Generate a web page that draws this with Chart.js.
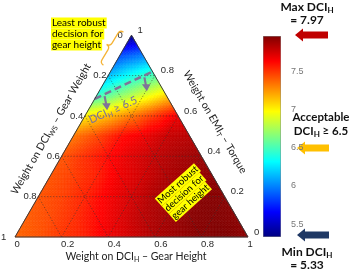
<!DOCTYPE html>
<html>
<head>
<meta charset="utf-8">
<script src="https://cdn.jsdelivr.net/npm/chart.js@4.4.0/dist/chart.umd.min.js"></script>
<style>
html, body { margin: 0; padding: 0; background: #fff; }
#wrap { position: relative; width: 350px; height: 271px; }
#tern { position: absolute; left: 0; top: 0; }
#cbar { position: absolute; left: 263px; top: 28px; }
</style>
</head>
<body>
<div id="wrap">
  <canvas id="tern" width="350" height="271"></canvas>
  <canvas id="cbar" width="45" height="217"></canvas>
</div>
<script>
// DCI_H at the ternary grid nodes (step 0.1).
// row r: weight on EMI_T = 1 - r/10, entries left to right: weight on DCI_H = 0 .. r/10
const gridStep = 0.1;
const dciRows = [
  [5.33],
  [5.85, 5.98],
  [6.15, 6.35, 6.52],
  [6.45, 6.68, 6.88, 7.08],
  [7.02, 7.15, 7.32, 7.50, 7.68],
  [7.33, 7.45, 7.60, 7.68, 7.78, 7.82],
  [7.42, 7.52, 7.62, 7.72, 7.80, 7.86, 7.90],
  [7.42, 7.48, 7.56, 7.68, 7.76, 7.85, 7.90, 7.93],
  [7.42, 7.47, 7.55, 7.66, 7.75, 7.85, 7.90, 7.95, 7.95],
  [7.40, 7.45, 7.52, 7.62, 7.72, 7.82, 7.88, 7.94, 7.96, 7.94],
  [7.38, 7.42, 7.50, 7.56, 7.68, 7.76, 7.85, 7.90, 7.95, 7.97, 7.93]
];
const dciMin = 5.33;
const dciMax = 7.97;
const threshold = 6.5;
const threshEdgeC = [0.685, 0.82];   // EMI_T weight where the 6.5 contour meets the left / right edge
const axisTicks = [0, 0.2, 0.4, 0.6, 0.8, 1];
const tickLabels = ['0', '0.2', '0.4', '0.6', '0.8', '1'];
const gridLevels = [0.2, 0.4, 0.6, 0.8];
const colorbarTicks = [5.5, 6, 6.5, 7, 7.5];

const H = Math.sqrt(3) / 2;
const tern = (a, c) => ({ x: a + c / 2, y: c * H });

function jetRGB(v) {
  const t = Math.min(1, Math.max(0, (v - dciMin) / (dciMax - dciMin)));
  const f = k => Math.round(255 * Math.min(1, Math.max(0, 1.5 - Math.abs(4 * t - k))));
  return [f(3), f(2), f(1)];
}
const jet = v => 'rgb(' + jetRGB(v).join(',') + ')';

function fillTri(ctx, p, q, r, color) {
  ctx.beginPath();
  ctx.moveTo(p[0], p[1]); ctx.lineTo(q[0], q[1]); ctx.lineTo(r[0], r[1]);
  ctx.closePath();
  ctx.fillStyle = color; ctx.strokeStyle = color;
  ctx.fill(); ctx.stroke();
}

function shadeCell(ctx, A, B, C, s) {
  const pt = (u, w) => [A.p[0] + (B.p[0] - A.p[0]) * u / s + (C.p[0] - A.p[0]) * w / s,
                        A.p[1] + (B.p[1] - A.p[1]) * u / s + (C.p[1] - A.p[1]) * w / s];
  const val = (u, w) => A.v + (B.v - A.v) * u / s + (C.v - A.v) * w / s;
  for (let u = 0; u < s; u++) {
    for (let w = 0; u + w < s; w++) {
      fillTri(ctx, pt(u, w), pt(u + 1, w), pt(u, w + 1),
        jet((val(u, w) + val(u + 1, w) + val(u, w + 1)) / 3));
      if (u + w < s - 1) {
        fillTri(ctx, pt(u + 1, w), pt(u, w + 1), pt(u + 1, w + 1),
          jet((val(u + 1, w) + val(u, w + 1) + val(u + 1, w + 1)) / 3));
      }
    }
  }
}

function rich(ctx, parts, x, y, size, weight, align, family) {
  const fam = family || 'Lato';
  const big = weight + ' ' + size + 'px ' + fam;
  const small = weight + ' ' + Math.round(size * 0.68) + 'px ' + fam;
  let w = 0;
  parts.forEach(([t, sub]) => { ctx.font = sub ? small : big; w += ctx.measureText(t).width; });
  let cx = align === 'center' ? x - w / 2 : (align === 'right' ? x - w : x);
  ctx.textAlign = 'left';
  ctx.textBaseline = 'middle';
  parts.forEach(([t, sub]) => {
    ctx.font = sub ? small : big;
    ctx.fillText(t, cx, sub ? y + size * 0.3 : y);
    cx += ctx.measureText(t).width;
  });
  return w;
}

function highlightLines(ctx, lines, x, y, lh, size) {
  ctx.font = size + 'px Lato';
  ctx.textAlign = 'left';
  ctx.textBaseline = 'middle';
  lines.forEach((t, i) => {
    const w = ctx.measureText(t).width;
    ctx.fillStyle = '#ffff00';
    ctx.fillRect(x - 1, y + i * lh - lh / 2, w + 2, lh);
  });
  ctx.fillStyle = '#000';
  lines.forEach((t, i) => ctx.fillText(t, x, y + i * lh));
}

function blockArrow(ctx, tipX, endX, cy, color) {
  const hl = 8, hh = 6.5, sh = 3.5;
  ctx.beginPath();
  ctx.moveTo(tipX, cy);
  ctx.lineTo(tipX + hl, cy - hh);
  ctx.lineTo(tipX + hl, cy - sh);
  ctx.lineTo(endX, cy - sh);
  ctx.lineTo(endX, cy + sh);
  ctx.lineTo(tipX + hl, cy + sh);
  ctx.lineTo(tipX + hl, cy + hh);
  ctx.closePath();
  ctx.fillStyle = color;
  ctx.fill();
}

function brace(ctx, x1, y1, x2, y2, d) {
  const L = Math.hypot(x2 - x1, y2 - y1);
  ctx.save();
  ctx.translate(x1, y1);
  ctx.rotate(Math.atan2(y2 - y1, x2 - x1));
  ctx.beginPath();
  ctx.moveTo(0, d);
  ctx.quadraticCurveTo(0, 0, d, 0);
  ctx.lineTo(L / 2 - d, 0);
  ctx.quadraticCurveTo(L / 2, 0, L / 2, -d);
  ctx.quadraticCurveTo(L / 2, 0, L / 2 + d, 0);
  ctx.lineTo(L - d, 0);
  ctx.quadraticCurveTo(L, 0, L, d);
  ctx.strokeStyle = '#f5b335';
  ctx.lineWidth = 1.3;
  ctx.stroke();
  ctx.restore();
}

const heatPlugin = {
  id: 'heat',
  beforeDatasetsDraw(chart) {
    const { ctx, scales: { x, y } } = chart;
    const node = (r, i) => {
      const p = tern(i * gridStep, 1 - r * gridStep);
      return { p: [x.getPixelForValue(p.x), y.getPixelForValue(p.y)], v: dciRows[r][i] };
    };
    ctx.save();
    ctx.lineWidth = 0.6;
    for (let r = 0; r < dciRows.length - 1; r++) {
      for (let i = 0; i <= r; i++) {
        shadeCell(ctx, node(r, i), node(r + 1, i), node(r + 1, i + 1), 8);
        if (i < r) shadeCell(ctx, node(r, i), node(r, i + 1), node(r + 1, i + 1), 8);
      }
    }
    ctx.restore();
  }
};

const labelPlugin = {
  id: 'labels',
  afterDatasetsDraw(chart) {
    const { ctx, scales: { x, y } } = chart;
    const P = (a, c) => { const p = tern(a, c); return [x.getPixelForValue(p.x), y.getPixelForValue(p.y)]; };
    ctx.save();
    // tick labels
    ctx.font = '9.5px "Liberation Sans"';
    ctx.fillStyle = '#2a2a2a';
    ctx.textBaseline = 'middle';
    axisTicks.forEach((t, k) => {
      const lab = tickLabels[k];
      let [px, py] = P(t, 0);
      ctx.textAlign = 'left';
      ctx.fillText(lab, px - 0.5, py + 7);
      [px, py] = P(0, 1 - t);
      ctx.textAlign = 'center';
      ctx.fillText(lab, px - (lab.length > 1 ? 8.3 : 11.3), py);
      [px, py] = P(1 - t, t);
      ctx.textAlign = 'left';
      ctx.fillText(lab, px + 6, py - 5);
    });

    // axis titles
    ctx.fillStyle = '#222';
    rich(ctx, [['Weight on DCI', 0], ['H', 1], [' \u2013 Gear Height', 0]], 136, 257, 10.5, 'normal', 'center');
    ctx.save();
    ctx.translate(51, 129);
    ctx.rotate(-Math.PI / 3);
    rich(ctx, [['Weight on DCI', 0], ['WS', 1], [' \u2013 Gear Weight', 0]], 0, 0, 10.5, 'normal', 'center');
    ctx.restore();
    ctx.save();
    ctx.translate(215, 122);
    ctx.rotate(Math.PI / 3);
    rich(ctx, [['Weight on EMI', 0], ['T', 1], [' \u2013 Torque', 0]], 0, 0, 10.5, 'normal', 'center');
    ctx.restore();

    // 6.5 contour annotation
    const [lx, ly] = P(0, threshEdgeC[0]);
    const [rx, ry] = P(1 - threshEdgeC[1], threshEdgeC[1]);
    ctx.strokeStyle = '#7f7399';
    ctx.fillStyle = '#7f7399';
    [0.17, 0.86].forEach(f => {
      const ax = lx + (rx - lx) * f, ay = ly + (ry - ly) * f + 2;
      ctx.lineWidth = 2.2;
      ctx.beginPath(); ctx.moveTo(ax, ay); ctx.lineTo(ax + 1.5, ay + 8); ctx.stroke();
      ctx.beginPath(); ctx.moveTo(ax + 2.5, ay + 14); ctx.lineTo(ax - 2.5, ay + 7); ctx.lineTo(ax + 6, ay + 7); ctx.closePath(); ctx.fill();
    });
    ctx.save();
    ctx.translate(113, 110);
    ctx.rotate(-24 * Math.PI / 180);
    ctx.fillStyle = '#7a72a0';
    rich(ctx, [['DCI', 0], ['H', 1], [' \u2265 ' + threshold, 0]], 0, 0, 11, 'normal', 'center');
    ctx.restore();

    // yellow notes
    highlightLines(ctx, ['Least robust', 'decision for', 'gear height'], 52, 23, 11, 10);
    brace(ctx, 100, 63, 120, 30, 4);
    ctx.save();
    ctx.translate(159, 201.7);
    ctx.rotate(-42 * Math.PI / 180);
    highlightLines(ctx, ['Most robust', 'decision for', 'gear height'], 0, 0, 10.5, 9.5);
    ctx.restore();

    // colour bar notes
    ctx.fillStyle = '#111';
    rich(ctx, [['Max DCI', 0], ['H', 1]], 307, 7, 12, 'bold', 'center');
    rich(ctx, [['= ' + dciMax.toFixed(2), 0]], 307, 20, 12, 'bold', 'center');
    rich(ctx, [['Acceptable', 0]], 321, 117, 11.5, 'bold', 'center');
    rich(ctx, [['DCI', 0], ['H', 1], [' \u2265 ' + threshold, 0]], 321, 131, 11.5, 'bold', 'center');
    rich(ctx, [['Min DCI', 0], ['H', 1]], 307, 252, 12, 'bold', 'center');
    rich(ctx, [['= ' + dciMin.toFixed(2), 0]], 307, 265, 12, 'bold', 'center');
    blockArrow(ctx, 295, 328, 35, '#c00000');
    blockArrow(ctx, 297, 329, 148, '#ffc000');
    blockArrow(ctx, 297, 329, 235, '#1f3864');
    ctx.restore();
  }
};

const gridSets = [];
gridLevels.forEach(k => {
  gridSets.push([tern(0, k), tern(1 - k, k)]);       // EMI_T = k
  gridSets.push([tern(k, 0), tern(k, 1 - k)]);       // DCI_H = k
  gridSets.push([tern(0, 1 - k), tern(1 - k, 0)]);   // DCI_WS = k
});

new Chart(document.getElementById('tern'), {
  type: 'scatter',
  data: {
    datasets: [
      {
        data: [tern(0, 0), tern(1, 0), tern(0, 1), tern(0, 0)],
        showLine: true, borderColor: '#3a3a3a', borderWidth: 1, pointRadius: 0
      },
      {
        data: [tern(0, threshEdgeC[0]), tern(1 - threshEdgeC[1], threshEdgeC[1])],
        showLine: true, borderColor: '#7f7399', borderWidth: 2.5, borderDash: [7, 4], pointRadius: 0
      },
      ...gridSets.map(d => ({
        data: d, showLine: true, borderColor: 'rgba(50,50,50,0.85)', borderWidth: 0.8,
        borderDash: [1, 2], pointRadius: 0
      }))
    ]
  },
  options: {
    responsive: false,
    animation: false,
    events: [],
    layout: { padding: 0 },
    plugins: { legend: { display: false }, tooltip: { enabled: false } },
    scales: {
      x: { type: 'linear', display: false, min: -15 / 233, max: 335 / 233 },
      y: { type: 'linear', display: false, min: -34 / 233, max: 237 / 233 }
    }
  },
  plugins: [heatPlugin, labelPlugin]
});

function jetGradient(chart) {
  const { ctx, chartArea, scales } = chart;
  if (!chartArea) return '#888';
  const yb = scales.y.getPixelForValue(dciMin), yt = scales.y.getPixelForValue(dciMax);
  const g = ctx.createLinearGradient(0, yb, 0, yt);
  [0, 0.125, 0.25, 0.375, 0.5, 0.625, 0.75, 0.875, 1].forEach(t => {
    g.addColorStop(t, jet(dciMin + t * (dciMax - dciMin)));
  });
  return g;
}

new Chart(document.getElementById('cbar'), {
  type: 'bar',
  data: {
    labels: [''],
    datasets: [{
      data: [[dciMin, dciMax]],
      backgroundColor: c => jetGradient(c.chart),
      borderColor: '#8a8a8a', borderWidth: 0.8, borderSkipped: false,
      barPercentage: 1, categoryPercentage: 1
    }]
  },
  options: {
    responsive: false,
    animation: false,
    events: [],
    layout: { padding: { top: 8, bottom: 8, left: 0, right: 0 } },
    plugins: { legend: { display: false }, tooltip: { enabled: false } },
    scales: {
      x: { display: false },
      y: {
        position: 'right', min: dciMin, max: dciMax,
        grid: { display: false }, border: { display: false },
        afterBuildTicks: s => { s.ticks = colorbarTicks.map(v => ({ value: v })); },
        afterFit: s => { s.width = 27; },
        ticks: { color: '#777', padding: 2, font: { size: 9, family: 'Liberation Sans' }, callback: v => String(v) }
      }
    }
  }
});
</script>
</body>
</html>
